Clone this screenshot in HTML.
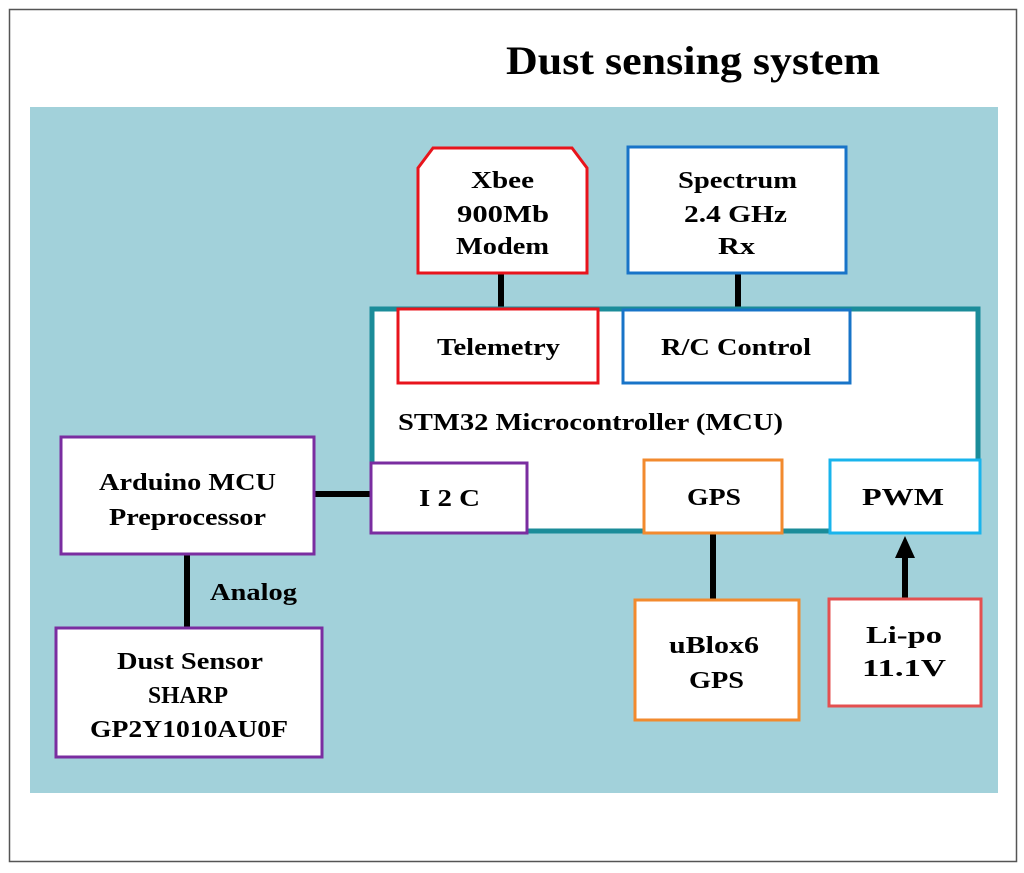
<!DOCTYPE html>
<html><head><style>body{margin:0;background:#fff}svg{display:block}</style></head><body>
<svg width="1024" height="873" viewBox="0 0 1024 873" xmlns="http://www.w3.org/2000/svg" font-family="Liberation Serif, serif" font-weight="bold">
<rect x="9.5" y="9.5" width="1007" height="852" fill="#fff" stroke="#555" stroke-width="1.5"/>
<text x="506" y="74" font-size="40" textLength="374" lengthAdjust="spacingAndGlyphs">Dust sensing system</text>
<rect x="30" y="107" width="968" height="686" fill="#a2d1da"/>
<g stroke="#000" stroke-width="6">
<line x1="501" y1="273" x2="501" y2="309"/>
<line x1="738" y1="273" x2="738" y2="309"/>
<line x1="314" y1="494" x2="372" y2="494"/>
<line x1="187" y1="554" x2="187" y2="627"/>
<line x1="713" y1="533" x2="713" y2="599"/>
<line x1="905" y1="598" x2="905" y2="556"/>
</g>
<polygon points="905,536 895,558 915,558" fill="#000"/>
<rect x="372" y="309" width="606" height="222" fill="#fff" stroke="#1b8c99" stroke-width="5"/>
<polygon points="418,168 433,148 572,148 587,168 587,273 418,273" fill="#fff" stroke="#e8141c" stroke-width="3"/>
<rect x="628" y="147" width="218" height="126" fill="#fff" stroke="#1874c8" stroke-width="3"/>
<rect x="398" y="309" width="200" height="74" fill="#fff" stroke="#e8141c" stroke-width="3"/>
<rect x="623" y="310" width="227" height="73" fill="#fff" stroke="#1874c8" stroke-width="3"/>
<rect x="371" y="463" width="156" height="70" fill="#fff" stroke="#7a2da0" stroke-width="3"/>
<rect x="644" y="460" width="138" height="73" fill="#fff" stroke="#f28a2e" stroke-width="3"/>
<rect x="830" y="460" width="150" height="73" fill="#fff" stroke="#19b4ec" stroke-width="3"/>
<rect x="61" y="437" width="253" height="117" fill="#fff" stroke="#7a2da0" stroke-width="3"/>
<rect x="56" y="628" width="266" height="129" fill="#fff" stroke="#7a2da0" stroke-width="3"/>
<rect x="635" y="600" width="164" height="120" fill="#fff" stroke="#f28a2e" stroke-width="3"/>
<rect x="829" y="599" width="152" height="107" fill="#fff" stroke="#e45050" stroke-width="3"/>
<g font-size="24" lengthAdjust="spacingAndGlyphs">
<text x="471" y="188" textLength="63" lengthAdjust="spacingAndGlyphs">Xbee</text>
<text x="457" y="222" textLength="92" lengthAdjust="spacingAndGlyphs">900Mb</text>
<text x="456" y="254" textLength="93" lengthAdjust="spacingAndGlyphs">Modem</text>
<text x="678" y="188" textLength="119" lengthAdjust="spacingAndGlyphs">Spectrum</text>
<text x="684" y="222" textLength="103" lengthAdjust="spacingAndGlyphs">2.4 GHz</text>
<text x="718" y="254" textLength="37" lengthAdjust="spacingAndGlyphs">Rx</text>
<text x="437" y="355" textLength="123" lengthAdjust="spacingAndGlyphs">Telemetry</text>
<text x="661" y="355" textLength="150" lengthAdjust="spacingAndGlyphs">R/C Control</text>
<text x="419" y="506" textLength="61" lengthAdjust="spacingAndGlyphs">I 2 C</text>
<text x="687" y="505" textLength="54" lengthAdjust="spacingAndGlyphs">GPS</text>
<text x="862" y="505" textLength="82" lengthAdjust="spacingAndGlyphs">PWM</text>
<text x="99" y="490" textLength="177" lengthAdjust="spacingAndGlyphs">Arduino MCU</text>
<text x="109" y="525" textLength="157" lengthAdjust="spacingAndGlyphs">Preprocessor</text>
<text x="117" y="669" textLength="146" lengthAdjust="spacingAndGlyphs">Dust Sensor</text>
<text x="148" y="703" textLength="80" lengthAdjust="spacingAndGlyphs">SHARP</text>
<text x="90" y="737" textLength="198" lengthAdjust="spacingAndGlyphs">GP2Y1010AU0F</text>
<text x="669" y="653" textLength="90" lengthAdjust="spacingAndGlyphs">uBlox6</text>
<text x="689" y="688" textLength="55" lengthAdjust="spacingAndGlyphs">GPS</text>
<text x="866" y="643" textLength="76" lengthAdjust="spacingAndGlyphs">Li-po</text>
<text x="862" y="676" textLength="84" lengthAdjust="spacingAndGlyphs">11.1V</text>
<text x="398" y="430" textLength="385" lengthAdjust="spacingAndGlyphs">STM32 Microcontroller (MCU)</text>
<text x="210" y="600" textLength="87" lengthAdjust="spacingAndGlyphs">Analog</text>
</g>
</svg>
</body></html>
